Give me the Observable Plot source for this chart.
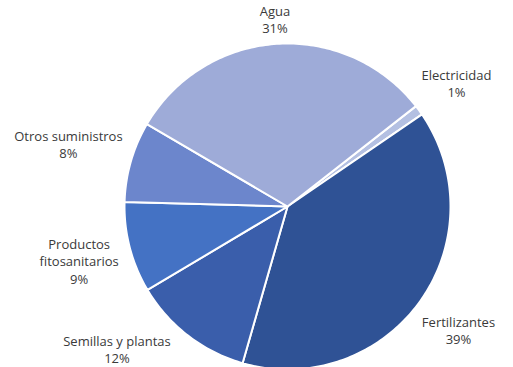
<!DOCTYPE html>
<html><head><meta charset="utf-8">
<script src="https://cdn.jsdelivr.net/npm/d3@7"></script>
<script src="https://cdn.jsdelivr.net/npm/@observablehq/plot@0.6"></script>
<style>body{margin:0;background:#fff}</style>
</head><body><div id="chart"></div>
<script>
const categories = ["Electricidad","Fertilizantes","Semillas y plantas","Productos fitosanitarios","Otros suministros","Agua"];
const labelLines = [["Electricidad"],["Fertilizantes"],["Semillas y plantas"],["Productos","fitosanitarios"],["Otros suministros"],["Agua"]];
const shares = [1,39,12,9,8,31];
const colors = ["#b4c0e2","#2f5295","#3a5eab","#4472c4","#6c86cc","#9eabd8"];
const startAngleDeg = 52;

const W = 513, H = 367;
const CX = 287, CY = 206, R = 163;   // pie layout in pixels
const FONT = 13, LH = 1.35, GAP = 8;
const ctx = document.createElement("canvas").getContext("2d");
ctx.font = `${FONT}px 'Open Sans'`;

const total = d3.sum(shares);
const pts = [];
const labels = [];
let a = startAngleDeg * Math.PI / 180;
shares.forEach((v, i) => {
  const span = v / total * 2 * Math.PI;
  const a0 = a, a1 = a + span;
  const cat = categories[i];
  pts.push({cat, x: 0, y: 0});
  const n = Math.max(2, Math.ceil(span / (Math.PI / 180)));
  for (let k = 0; k <= n; k++) {
    const t = a0 + span * k / n;
    pts.push({cat, x: Math.sin(t), y: Math.cos(t)});
  }
  pts.push({cat, x: 0, y: 0});
  // label: box whose nearest point sits GAP px outside the pie along the mid angle
  const m = (a0 + a1) / 2;
  const lines = labelLines[i].concat([v + "%"]);
  const hw = d3.max(lines, s => ctx.measureText(s).width) / 2;
  const hh = lines.length * FONT * LH / 2;
  const ux = Math.sin(m), uy = -Math.cos(m);
  const dist = (x, y) => Math.hypot(Math.max(Math.abs(x - CX) - hw, 0), Math.max(Math.abs(y - CY) - hh, 0));
  let lo = 0, hi = 600;
  for (let k = 0; k < 50; k++) { const mid = (lo + hi) / 2; if (dist(CX + ux * mid, CY + uy * mid) < R + GAP) lo = mid; else hi = mid; }
  let px = CX + ux * lo, py = CY + uy * lo;
  const pyc = Math.min(Math.max(py, hh + 1), H - hh - 1);
  if (pyc !== py) {
    py = pyc;
    if (Math.abs(ux) > 0.3) {
      const sx = Math.sign(ux);
      let l2 = 0, h2 = 600;
      for (let k = 0; k < 50; k++) { const mid = (l2 + h2) / 2; if (dist(CX + sx * mid, py) < R + GAP) l2 = mid; else h2 = mid; }
      px = CX + sx * l2;
    }
  }
  px = Math.min(Math.max(px, hw + 2), W - hw - 2);
  labels.push({cat, text: lines.join("\n"), x: (px - CX) / R, y: (CY - py) / R});
  a = a1;
});

const chart = Plot.plot({
  width: W,
  height: H,
  margin: 0,
  style: {fontFamily: "'Open Sans', sans-serif", background: "#fff"},
  x: {domain: [-1, 1], range: [CX - R, CX + R], axis: null},
  y: {domain: [-1, 1], range: [CY + R, CY - R], axis: null},
  color: {domain: categories, range: colors},
  marks: [
    Plot.line(pts, {x: "x", y: "y", z: "cat", fill: "cat", stroke: "white", strokeWidth: 2, strokeLinejoin: "round"}),
    Plot.text(labels, {x: "x", y: "y", text: "text", fontSize: FONT, lineHeight: LH, fill: "#3a3a3a", textAnchor: "middle", lineAnchor: "middle"})
  ]
});
document.getElementById("chart").append(chart);
</script>
</body></html>
